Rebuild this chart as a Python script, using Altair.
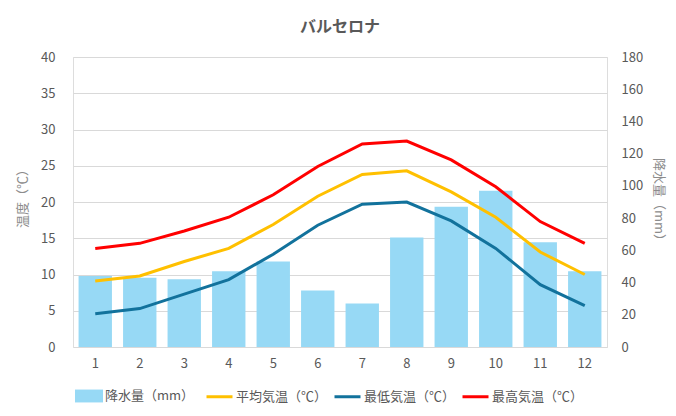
import altair as alt
import pandas as pd

months = list(range(1, 13))
precip = [44, 43, 42, 47, 53, 35, 27, 68, 87, 97, 65, 47]
t_mean = [9.1, 9.8, 11.8, 13.6, 16.9, 20.8, 23.8, 24.3, 21.4, 17.9, 13.1, 10.0]
t_min = [4.6, 5.3, 7.3, 9.3, 12.8, 16.8, 19.7, 20.0, 17.4, 13.6, 8.6, 5.7]
t_max = [13.6, 14.3, 16.0, 17.9, 21.0, 24.9, 28.0, 28.4, 25.8, 22.1, 17.3, 14.3]

precip_name = "降水量（mm）"
series_names = ["平均気温（℃）", "最低気温（℃）", "最高気温（℃）"]
series_colors = ["#FFC000", "#12729C", "#FF0000"]
bar_color = "#97D9F5"
title_text = "バルセロナ"
left_title = "温度（℃）"
right_title = "降水量（mm）"

df_p = pd.DataFrame({"month": months, "precip": precip, "series": precip_name})
rows = []
for name, vals in zip(series_names, [t_mean, t_min, t_max]):
    for m, v in zip(months, vals):
        rows.append({"month": m, "temp": v, "series": name})
df_t = pd.DataFrame(rows)

font = "Noto Sans CJK JP"
txt = "#595959"
ttl = "#8C8C8C"

x_enc = alt.X(
    "month:O",
    scale=alt.Scale(paddingInner=0.25, paddingOuter=0.125),
    axis=alt.Axis(title=None, labelAngle=0, domain=False, ticks=False, grid=False,
                  labelPadding=10, labelFontSize=13, labelColor=txt, labelFont=font),
)

bars = alt.Chart(df_p).mark_bar().encode(
    x=x_enc,
    y=alt.Y(
        "precip:Q",
        scale=alt.Scale(domain=[0, 180], nice=False),
        axis=alt.Axis(orient="right", values=list(range(0, 181, 20)), grid=False,
                      domain=False, ticks=False, labelPadding=14, labelFontSize=13,
                      labelColor=txt, labelFont=font,
                      title=right_title, titleAngle=90, titleX=51, titleY=145,
                      titleAlign="center", titleBaseline="middle", titleFont=font,
                      titleFontSize=13, titleFontWeight="normal", titleColor=ttl,
                      titleLimit=400),
    ),
    fill=alt.Fill(
        "series:N",
        scale=alt.Scale(domain=[precip_name], range=[bar_color]),
        legend=alt.Legend(title=None, orient="none", legendX=2, legendY=325,
                          symbolType="M-1,-0.46H1V0.46H-1Z", symbolSize=784,
                          symbolStrokeWidth=0, labelOffset=2, padding=0,
                          labelLimit=400,
                          labelFont=font, labelFontSize=13, labelColor=txt),
    ),
)

lines = alt.Chart(df_t).mark_line(strokeWidth=3).encode(
    x=x_enc,
    y=alt.Y(
        "temp:Q",
        scale=alt.Scale(domain=[0, 40], nice=False),
        axis=alt.Axis(orient="left", values=list(range(0, 41, 5)), grid=True,
                      gridColor="#D9D9D9", gridWidth=1,
                      domain=False, ticks=False, labelPadding=18, labelFontSize=13,
                      labelColor=txt, labelFont=font,
                      title=left_title, titleAngle=-90, titleX=-51, titleY=138,
                      titleAlign="center", titleBaseline="middle", titleFont=font,
                      titleFontSize=13, titleFontWeight="normal", titleColor=ttl,
                      titleLimit=400),
    ),
    stroke=alt.Stroke(
        "series:N",
        scale=alt.Scale(domain=series_names, range=series_colors),
        sort=series_names,
        legend=alt.Legend(title=None, orient="none", legendX=132, legendY=325,
                          direction="horizontal", symbolType="stroke", symbolSize=676,
                          symbolStrokeWidth=3, labelOffset=2, columnPadding=0,
                          labelLimit=400,
                          padding=0, labelFont=font, labelFontSize=13, labelColor=txt),
    ),
    detail="series:N",
)

chart = alt.layer(bars, lines).resolve_scale(
    y="independent", fill="independent", stroke="independent"
).properties(
    width=534,
    height=290,
    title=alt.TitleParams(title_text, font=font, fontSize=16, fontWeight="bold",
                          color=txt, anchor="middle", offset=16),
    autosize=alt.AutoSizeParams(type="none"),
    padding={"left": 65, "top": 49, "right": 61, "bottom": 61},
).configure_view(stroke=None).configure(background="white")

chart.save("out.html", embed_options={"renderer": "svg", "actions": False})
